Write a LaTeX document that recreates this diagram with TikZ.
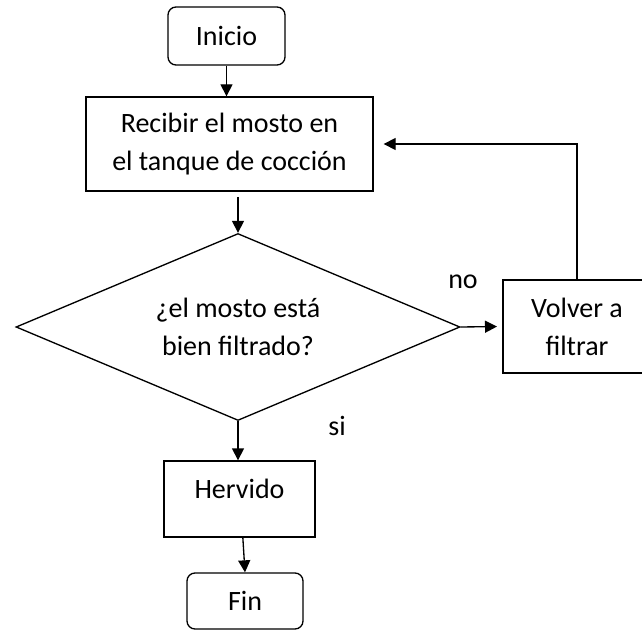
\documentclass[tikz,border=0pt]{standalone}
\usepackage{fontspec}
\setmainfont{Carlito}
\usetikzlibrary{arrows.meta,shapes.geometric}

\begin{document}
\begin{tikzpicture}[x=0.75pt, y=-0.75pt, ->, >={Triangle[length=9pt,width=9pt]}, line width=1pt,
    font=\fontsize{21}{28.5}\selectfont]
    \tikzstyle{every node}=[align=center, inner sep=0pt]
    \tikzstyle{terminal}=[draw, rectangle, rounded corners=6pt]
    \tikzstyle{process}=[draw, rectangle]
    \tikzstyle{decision}=[draw, diamond, aspect=2.37, minimum width=333pt, minimum height=140.25pt]

    \clip (0,0) rectangle (642,630);

    \node[terminal, minimum width=87.75pt, minimum height=43.5pt] (inicio) at (226.5,36) {Inicio};
    \node[process, minimum width=215.25pt, minimum height=70.5pt] (recibir) at (229.5,144)
        {Recibir el mosto en\\el tanque de cocción};
    \node[decision] (filtrado) at (238,327) {¿el mosto está\\bien filtrado?};
    \node[process, minimum width=111pt, minimum height=69.75pt] (volver) at (577,326.5)
        {Volver a\\filtrar};
    \node[process, minimum width=113.25pt, minimum height=57pt, text depth=15pt] (hervido) at (239.5,499)
        {Hervido};
    \node[terminal, minimum width=87pt, minimum height=42pt] (fin) at (245,601) {Fin};

    \node (no) at (463,282) {no};
    \node (si) at (337,426) {si};

    \draw (inicio.south) -- (inicio.south |- recibir.north);
    \draw[shorten <=4pt] (filtrado.north |- recibir.south) -- (filtrado.north);
    \draw[shorten >=4pt] (filtrado.east) -- (volver.west);
    \draw[shorten >=7.5pt] (volver.north) |- (recibir.east);
    \draw (filtrado.south) -- (filtrado.south |- hervido.north);
    \draw ([xshift=2.5pt]hervido.south) -- (fin.north);

\end{tikzpicture}
\end{document}
